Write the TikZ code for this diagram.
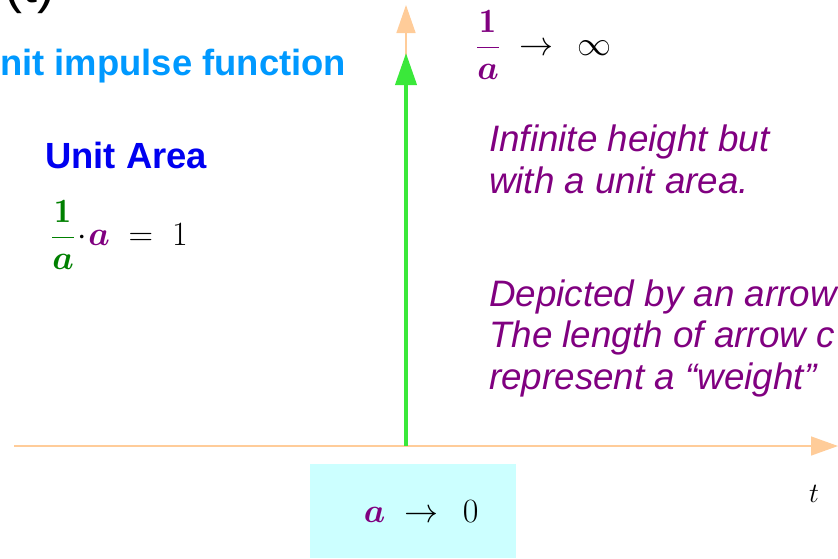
\documentclass[tikz,border=0pt]{standalone}
\usepackage{fix-cm}
\usepackage{amsmath, amssymb, bm}
\usepackage{fontspec}
\setsansfont{Liberation Sans}
\usepackage{tikz}
\usetikzlibrary{arrows.meta}

\definecolor{peach}{RGB}{255,204,153}
\definecolor{spikegreen}{RGB}{58,232,58}
\definecolor{notepurple}{RGB}{128,0,128}
\definecolor{skyblue}{RGB}{0,153,255}
\definecolor{areablue}{RGB}{0,0,240}
\definecolor{fracgreen}{RGB}{0,128,0}
\definecolor{boxcyan}{RGB}{204,255,255}

\begin{document}
\begin{tikzpicture}[
  x=1pt, y=-1pt,
  axis/.style={draw=peach, line width=1.5pt},
  spike/.style={draw=spikegreen, line width=4pt, -{Triangle[width=21pt, length=32pt]}},
  note/.style={font=\sffamily\itshape\fontsize{36.8}{41.5}\selectfont, text=notepurple, align=left, anchor=base west, inner sep=0pt},
  heading/.style={font=\sffamily\bfseries\fontsize{36.4}{41}\selectfont, anchor=base west, inner sep=0pt},
  mathlbl/.style={font=\fontsize{34}{40}\selectfont, inner sep=0pt}
]
  \useasboundingbox (0,0) rectangle (838,558);
  \clip (0,0) rectangle (838,558);

  % axes
  \coordinate (origin) at (406,446);
  \coordinate (tstart) at (14,446);
  \coordinate (tend) at (838,446);
  \coordinate (ytop) at (406,5);
  \coordinate (peak) at (406,53);
  \draw[axis, -{Triangle[width=19pt, length=27pt]}] (tstart) -- (tend);
  \draw[axis, -{Triangle[width=19pt, length=28pt]}] (origin) -- (ytop);
  \draw[spike] (origin) -- (peak);

  % titles
  \node[font=\sffamily\fontsize{54}{60}\selectfont, anchor=base west, inner sep=0pt] (title) at (4,2) {(t)};
  \node[heading, text=skyblue] (impulse) at (0,75) {nit impulse function};
  \node[heading, text=areablue] (area) at (45,168) {Unit Area};

  % formulas
  \node[mathlbl, anchor=west] (unitarea) at (51,235)
    {$\color{fracgreen}\dfrac{\mathbf{1}}{\bm{a}}\color{black}\!\cdot\!{\color{notepurple}\bm{a}}\;=\;1$};
  \node[mathlbl, anchor=west] (height) at (476,45)
    {$\color{notepurple}\dfrac{\mathbf{1}}{\bm{a}}\color{black}\;\to\;\,\infty$};
  \node[mathlbl, fill=boxcyan, anchor=north west, minimum width=206pt, minimum height=94pt] (limit) at (310,464)
    {\hspace*{16pt}${\color{notepurple}\bm{a}}\;\to\;\,0$};
  \node[mathlbl, font=\fontsize{28}{32}\selectfont] (tlabel) at (814,494) {$t$};

  % notes (anchored on the last line)
  \node[note] (infinite) at (489,193) {Infinite height but\\with a unit area.};
  \node[note] (depicted) at (489,389) {Depicted by an arrow\\The length of arrow c\\represent a “weight”};
\end{tikzpicture}
\end{document}
